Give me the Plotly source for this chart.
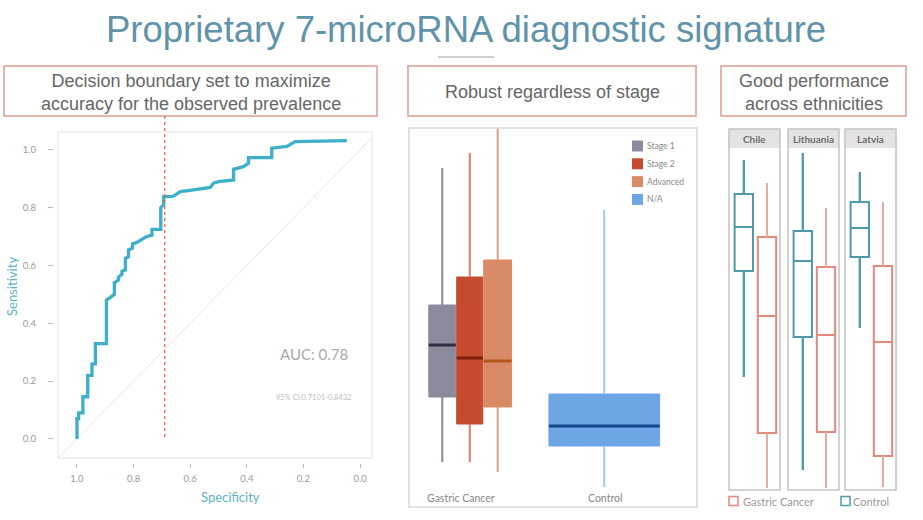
import plotly.graph_objects as go

W, H = 923, 520


def px(x):
    return x / W


def py(y):
    return 1 - y / H


# ---------------- data ----------------
title_text = "Proprietary 7-microRNA diagnostic signature"
header_texts = [
    "Decision boundary set to maximize<br>accuracy for the observed prevalence",
    "Robust regardless of stage",
    "Good performance<br>across ethnicities",
]

# ROC curve (specificity, sensitivity)
roc_specificity = [1.0, 1.0, 0.994, 0.994, 0.979, 0.979, 0.962, 0.962, 0.947, 0.947,
                   0.935, 0.935, 0.896, 0.896, 0.882, 0.868, 0.868, 0.853, 0.853, 0.841,
                   0.841, 0.829, 0.829, 0.818, 0.818, 0.804, 0.804, 0.788, 0.765, 0.753,
                   0.735, 0.735, 0.704, 0.704, 0.694, 0.694, 0.659, 0.635, 0.588, 0.529,
                   0.518, 0.5, 0.447, 0.447, 0.412, 0.394, 0.394, 0.312, 0.312, 0.259,
                   0.229, 0.047]
roc_sensitivity = [0.0, 0.07, 0.07, 0.09, 0.09, 0.146, 0.146, 0.22, 0.22, 0.26,
                   0.26, 0.33, 0.33, 0.48, 0.49, 0.50, 0.54, 0.55, 0.56, 0.57,
                   0.58, 0.585, 0.625, 0.63, 0.654, 0.66, 0.675, 0.68, 0.694, 0.70,
                   0.705, 0.725, 0.725, 0.80, 0.81, 0.838, 0.84, 0.856, 0.862, 0.87,
                   0.885, 0.89, 0.896, 0.933, 0.942, 0.954, 0.973, 0.973, 1.006, 1.012,
                   1.029, 1.032]
chance_specificity = [1.1, -0.1]
chance_sensitivity = [-0.1, 1.1]
threshold_specificity = 0.69
roc_ticks = [0.0, 0.2, 0.4, 0.6, 0.8, 1.0]
auc_label = "AUC: 0.78"
ci_label = "95% CI:0.7101-0.8432"

# Stage panel
stage_names = ["Stage 1", "Stage 2", "Advanced", "N/A"]
group_labels = ["Gastric Cancer", "Control"]
stage_lower = [0.45, 0.45, 0.35, 0.20]
stage_q1 = [1.10, 0.83, 1.00, 0.61]
stage_median = [1.62, 1.49, 1.46, 0.81]
stage_q3 = [2.02, 2.30, 2.47, 1.13]
stage_upper = [3.39, 3.54, 3.85, 2.97]

# Ethnicity panel
countries = ["Chile", "Lithuania", "Latvia"]
eth_classes = ["Gastric Cancer", "Control"]
control_lower = [1.13, 0.20, 1.62]
control_q1 = [2.19, 1.53, 2.33]
control_median = [2.63, 2.29, 2.62]
control_q3 = [2.96, 2.59, 2.88]
control_upper = [3.30, 3.37, 3.18]
gastric_lower = [0.02, 0.02, 0.03]
gastric_q1 = [0.57, 0.58, 0.34]
gastric_median = [1.74, 1.55, 1.48]
gastric_q3 = [2.53, 2.23, 2.24]
gastric_upper = [3.07, 2.82, 2.88]

# ---------------- styles ----------------
TITLE_FONT = "Liberation Sans, Arial, sans-serif"
CHART_FONT = "Lato, Noto Sans, sans-serif"
salmon_border = "#dd9c8e"
roc_color = "#3eafca"
teal_text = "#5db4c7"

stage_fill = ["#8c8b9b", "#c44b30", "#d98a67", "#6ea5e5"]
stage_whisk = ["#8c8b9b", "#d5826f", "#dea083", "#a9c6ec"]
stage_med = ["#2f2d44", "#7e1f0c", "#b4561f", "#14468c"]
stage_pos = [0.37, 0.675, 0.985, 2.17]
stage_w = [0.30, 0.29, 0.31, 1.23]

ctrl_color = "#4f9aaa"
gc_color = "#e3897c"
gc_whisk = "#e8aaa3"
eth_pos = {"Control": 0.29, "Gastric Cancer": 0.745}
eth_w = 0.36

fig = go.Figure()

# ---------------- ROC panel ----------------
fig.add_trace(go.Scatter(x=chance_specificity, y=chance_sensitivity, mode="lines",
                         line=dict(color="#e6e6e6", width=1), xaxis="x", yaxis="y",
                         showlegend=False, hoverinfo="skip"))
fig.add_trace(go.Scatter(x=roc_specificity, y=roc_sensitivity, mode="lines",
                         line=dict(color=roc_color, width=3.3), xaxis="x", yaxis="y",
                         showlegend=False))

# ---------------- Stage panel ----------------
for i, name in enumerate(stage_names):
    p, w = stage_pos[i], stage_w[i]
    fig.add_trace(go.Box(x=[p], q1=[stage_q1[i]], median=[stage_median[i]], q3=[stage_q3[i]],
                         lowerfence=[stage_lower[i]], upperfence=[stage_upper[i]],
                         width=w, fillcolor=stage_fill[i],
                         line=dict(color=stage_fill[i], width=1), whiskerwidth=0,
                         boxpoints=False, name=name, showlegend=False,
                         xaxis="x2", yaxis="y2"))
    fig.add_trace(go.Scatter(x=[p, p, None, p, p],
                             y=[stage_lower[i], stage_q1[i], None, stage_q3[i], stage_upper[i]],
                             mode="lines", line=dict(color=stage_whisk[i], width=2),
                             xaxis="x2", yaxis="y2", showlegend=False, hoverinfo="skip"))
    fig.add_trace(go.Scatter(x=[p - w / 2, p + w / 2], y=[stage_median[i], stage_median[i]],
                             mode="lines", line=dict(color=stage_med[i], width=3),
                             xaxis="x2", yaxis="y2", showlegend=False, hoverinfo="skip"))

# ---------------- Ethnicity panel ----------------
for j, country in enumerate(countries):
    xa = "x%d" % (j + 3)
    ya = "y%d" % (j + 3)
    series = {
        "Control": (control_lower[j], control_q1[j], control_median[j], control_q3[j], control_upper[j], ctrl_color, ctrl_color),
        "Gastric Cancer": (gastric_lower[j], gastric_q1[j], gastric_median[j], gastric_q3[j], gastric_upper[j], gc_color, gc_whisk),
    }
    for cls in eth_classes:
        lo, q1, med, q3, up, col, wcol = series[cls]
        p = eth_pos[cls]
        fig.add_trace(go.Box(x=[p], q1=[q1], median=[med], q3=[q3], lowerfence=[lo], upperfence=[up],
                             width=eth_w, fillcolor="white", line=dict(color=col, width=2),
                             whiskerwidth=0, boxpoints=False, name=cls, showlegend=False,
                             xaxis=xa, yaxis=ya))
        fig.add_trace(go.Scatter(x=[p, p, None, p, p], y=[lo, q1, None, q3, up], mode="lines",
                                 line=dict(color=wcol, width=2), xaxis=xa, yaxis=ya,
                                 showlegend=False, hoverinfo="skip"))

# ---------------- layout ----------------
hidden = dict(visible=False, showgrid=False, zeroline=False, fixedrange=True)
layout = dict(
    width=W, height=H, margin=dict(l=0, r=0, t=0, b=0),
    paper_bgcolor="white", plot_bgcolor="rgba(0,0,0,0)",
    font=dict(family=CHART_FONT, color="#888"),
    xaxis=dict(domain=[px(58), px(372)], range=[1.067, -0.042], anchor="free", position=py(463),
               showline=False, showgrid=False, zeroline=False, ticks="outside", ticklen=4,
               tickcolor="#bbbbbb", tickvals=roc_ticks, tickformat=".1f", ticklabelstandoff=3,
               tickfont=dict(family=CHART_FONT, size=9.5, color="#9a9a9a")),
    yaxis=dict(domain=[py(458), py(132)], range=[-0.066, 1.062], anchor="free", position=px(53),
               showline=False, showgrid=False, zeroline=False, ticks="outside", ticklen=5,
               tickcolor="#bbbbbb", tickvals=roc_ticks, tickformat=".1f", ticklabelstandoff=10,
               tickfont=dict(family=CHART_FONT, size=9.5, color="#9a9a9a")),
    xaxis2=dict(domain=[px(409), px(697)], range=[0, 3.2], anchor="y2", **hidden),
    yaxis2=dict(domain=[py(507), py(128)], range=[0, 3.79], anchor="x2", **hidden),
)
facet_x = [(729, 780), (788, 839), (845, 896)]
for j, (a, b) in enumerate(facet_x):
    layout["xaxis%d" % (j + 3)] = dict(domain=[px(a), px(b)], range=[0, 1], anchor="y%d" % (j + 3), **hidden)
    layout["yaxis%d" % (j + 3)] = dict(domain=[py(490), py(148)], range=[0, 3.42], anchor="x%d" % (j + 3), **hidden)
fig.update_layout(**layout)

shapes = []
annotations = []


def note(text, x, y, size, color, family=CHART_FONT, xanchor="center", xref="paper",
         yref="paper", **kw):
    annotations.append(dict(text=text, x=x, y=y, xref=xref, yref=yref, showarrow=False,
                            xanchor=xanchor, yanchor="middle",
                            font=dict(family=family, size=size, color=color), **kw))


# title
note(title_text, px(466), py(29), 36.5, "#5f93aa", family=TITLE_FONT)
shapes.append(dict(type="line", xref="paper", yref="paper", x0=px(438), x1=px(494),
                   y0=py(57), y1=py(57), line=dict(color="#cfcfcf", width=2)))

# header boxes
header_boxes = [(4, 377), (408, 696), (721, 906)]
for (a, b), txt in zip(header_boxes, header_texts):
    shapes.append(dict(type="rect", xref="paper", yref="paper", x0=px(a), x1=px(b),
                       y0=py(116), y1=py(66), line=dict(color=salmon_border, width=1.5)))
    note(txt, px((a + b) / 2), py(92), 18, "#666666", family=TITLE_FONT)

# ROC frame, threshold line, texts
shapes.append(dict(type="rect", xref="paper", yref="paper", x0=px(58), x1=px(372),
                   y0=py(458), y1=py(132), line=dict(color="#e2e2e2", width=1)))
shapes.append(dict(type="line", xref="x", yref="paper", x0=threshold_specificity,
                   x1=threshold_specificity, y0=py(437), y1=py(116),
                   line=dict(color="#df5f48", width=1.2, dash="3px,3px")))
note(auc_label, 0.164, 0.294, 15, "#a9a9a9", xref="x", yref="y")
note(ci_label, 0.166, 0.142, 7.5, "#bdbdbd", xref="x", yref="y")
note("Sensitivity", px(12), py(287), 13, teal_text, textangle=-90)
note("Specificity", px(230), py(497), 13, teal_text)

# Stage panel frame, group labels, legend
shapes.append(dict(type="rect", xref="paper", yref="paper", x0=px(409), x1=px(697),
                   y0=py(507), y1=py(128), line=dict(color="#d8d8d8", width=1.5)))
for lbl, cx in zip(group_labels, [461, 605]):
    note(lbl, px(cx), py(498), 10.5, "#888888")
for i, name in enumerate(stage_names):
    cy = 146 + 17.8 * i
    shapes.append(dict(type="rect", xref="paper", yref="paper", x0=px(632), x1=px(643),
                       y0=py(cy + 5.5), y1=py(cy - 5.5), fillcolor=stage_fill[i],
                       line=dict(width=0)))
    note(name, px(645), py(cy), 8.5, "#888888", xanchor="left")

# Ethnicity panel frames, strips, legend
for (a, b), country in zip(facet_x, countries):
    shapes.append(dict(type="rect", xref="paper", yref="paper", x0=px(a), x1=px(b),
                       y0=py(148), y1=py(129), fillcolor="#e3e3e3", line=dict(width=0),
                       layer="below"))
    shapes.append(dict(type="rect", xref="paper", yref="paper", x0=px(a), x1=px(b),
                       y0=py(490), y1=py(129), line=dict(color="#c4c4c4", width=1.5)))
    note("<b>%s</b>" % country, px((a + b) / 2), py(139), 10, "#6e6e6e")
legend_specs = [(eth_classes[0], gc_color, 729, 741), (eth_classes[1], ctrl_color, 841, 851)]
for cls, col, sx, tx in legend_specs:
    shapes.append(dict(type="rect", xref="paper", yref="paper", x0=px(sx), x1=px(sx + 9),
                       y0=py(505.5), y1=py(496.5), line=dict(color=col, width=1.5)))
    note(cls, px(tx), py(501), 11, "#9a9a9a", xanchor="left")

fig.update_layout(shapes=shapes, annotations=annotations)
fig.write_html("out.html", config={"displayModeBar": False},
               post_script="document.body.style.margin='0px';")
